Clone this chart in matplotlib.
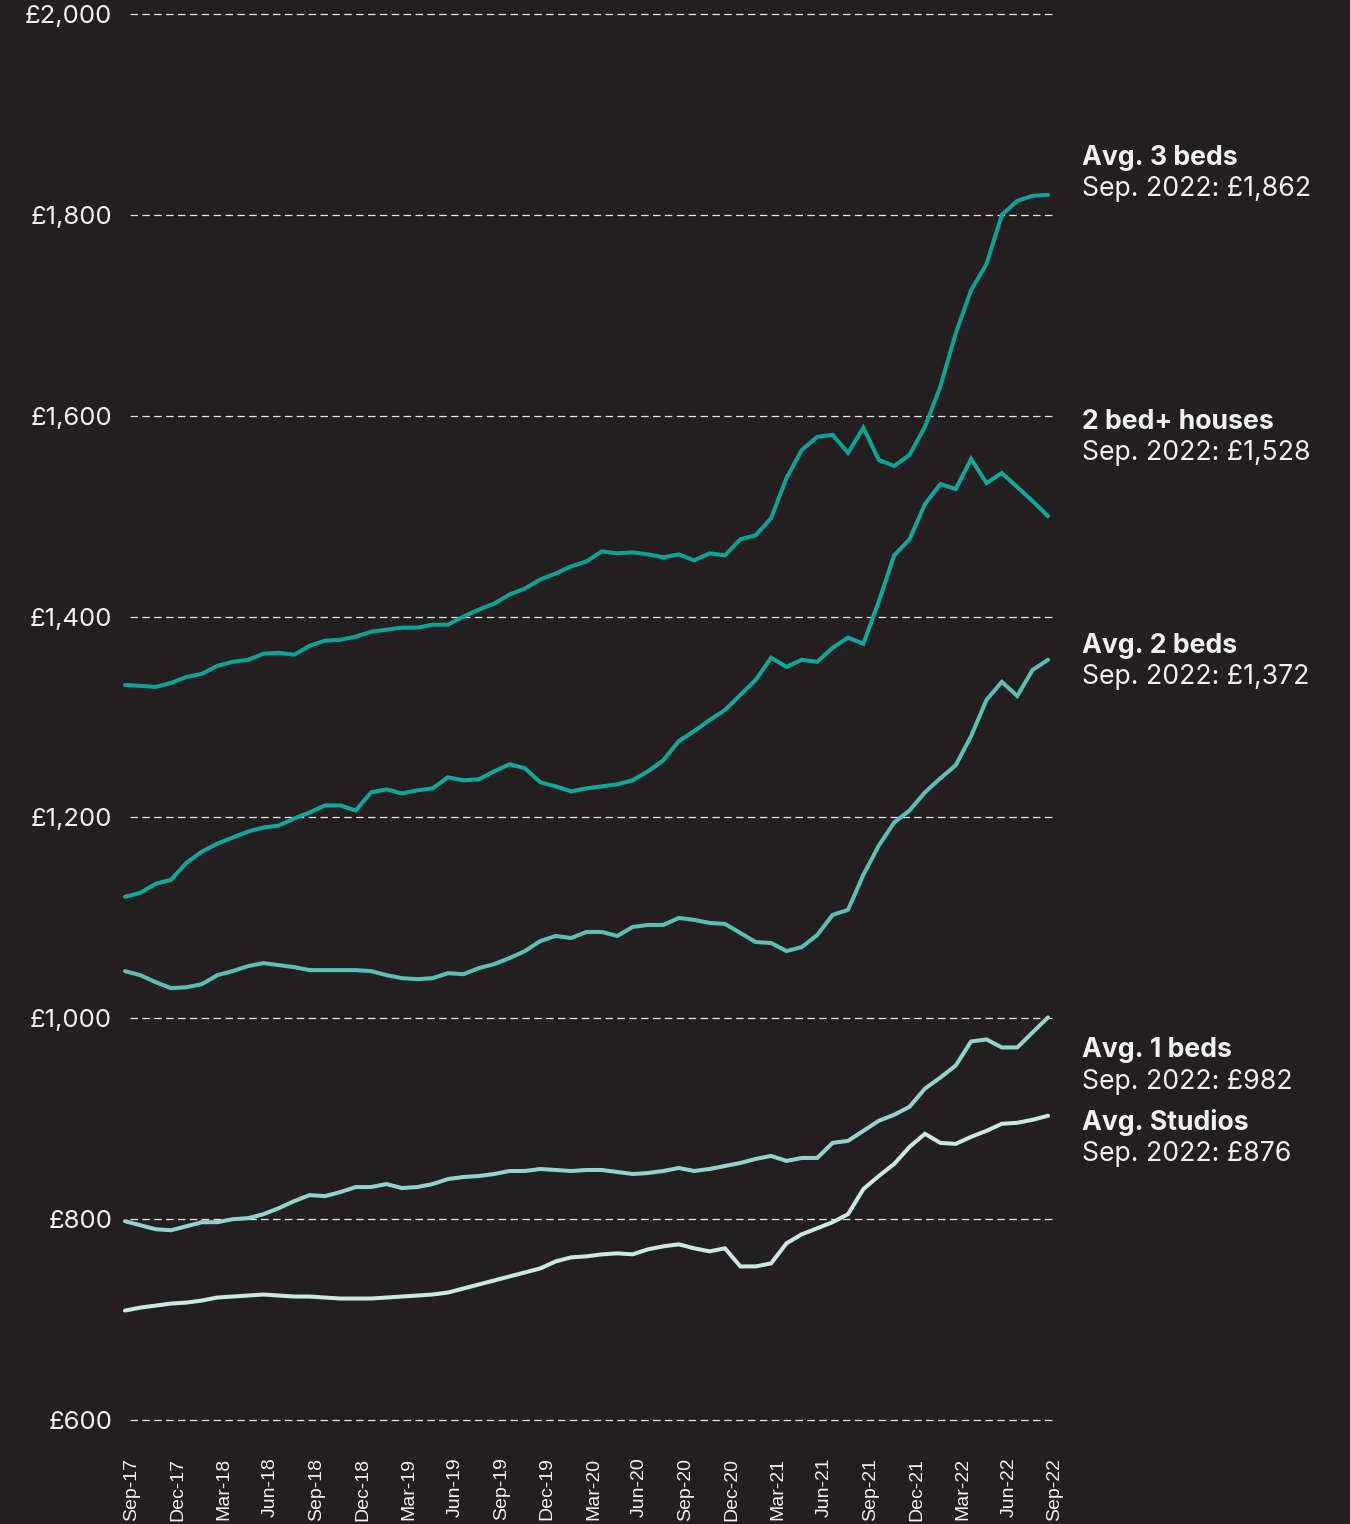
"""Average monthly rents by property size, Sep 2017 - Sep 2022."""
import matplotlib
matplotlib.use("Agg")
import matplotlib.pyplot as plt
from matplotlib.transforms import ScaledTranslation
import numpy as np

BG = "#231f20"
TXT = "#f2f2f2"

# Monthly average rents (GBP), Sep-17 .. Sep-22
beds3 = [1332, 1331, 1330, 1334, 1340, 1343, 1351, 1355, 1357, 1363,
         1364, 1362, 1371, 1376, 1377, 1380, 1385, 1387, 1389, 1389,
         1392, 1392, 1400, 1407, 1413, 1422, 1428, 1437, 1443, 1450,
         1455, 1465, 1463, 1464, 1462, 1459, 1462, 1456, 1463, 1461,
         1477, 1481, 1498, 1538, 1566, 1579, 1581, 1563, 1588, 1556,
         1550, 1561, 1589, 1629, 1682, 1725, 1751, 1800, 1814, 1819, 1820]
houses = [1121, 1125, 1134, 1138, 1155, 1166, 1174, 1180, 1186, 1190,
          1192, 1199, 1205, 1212, 1212, 1207, 1225, 1228, 1224, 1227,
          1229, 1240, 1237, 1238, 1246, 1253, 1249, 1235, 1231, 1226,
          1229, 1231, 1233, 1237, 1246, 1257, 1276, 1286, 1297, 1307,
          1322, 1337, 1359, 1350, 1357, 1355, 1369, 1379, 1373, 1415,
          1461, 1477, 1512, 1532, 1527, 1557, 1533, 1543, 1529, 1515, 1500]
beds2 = [1047, 1043, 1036, 1030, 1031, 1034, 1043, 1047, 1052, 1055,
         1053, 1051, 1048, 1048, 1048, 1048, 1047, 1043, 1040, 1039,
         1040, 1045, 1044, 1050, 1054, 1060, 1067, 1077, 1082, 1080,
         1086, 1086, 1082, 1091, 1093, 1093, 1100, 1098, 1095, 1094,
         1085, 1076, 1075, 1067, 1071, 1083, 1103, 1108, 1143, 1172,
         1195, 1207, 1225, 1239, 1252, 1281, 1317, 1335, 1321, 1347, 1357]
beds1 = [798, 794, 790, 789, 793, 797, 797, 800, 801, 805,
         811, 818, 824, 823, 827, 832, 832, 835, 831, 832,
         835, 840, 842, 843, 845, 848, 848, 850, 849, 848,
         849, 849, 847, 845, 846, 848, 851, 848, 850, 853,
         856, 860, 863, 858, 861, 861, 876, 878, 888, 898,
         904, 912, 930, 941, 953, 977, 979, 971, 971, 986, 1001]
studios = [709, 712, 714, 716, 717, 719, 722, 723, 724, 725,
           724, 723, 723, 722, 721, 721, 721, 722, 723, 724,
           725, 727, 731, 735, 739, 743, 747, 751, 758, 762,
           763, 765, 766, 765, 770, 773, 775, 771, 768, 771,
           753, 753, 756, 776, 785, 791, 797, 805, 830, 843,
           855, 872, 885, 876, 875, 882, 888, 895, 896, 899, 903]

tick_labels = ["Sep-17", "Dec-17", "Mar-18", "Jun-18", "Sep-18", "Dec-18",
               "Mar-19", "Jun-19", "Sep-19", "Dec-19", "Mar-20", "Jun-20",
               "Sep-20", "Dec-20", "Mar-21", "Jun-21", "Sep-21", "Dec-21",
               "Mar-22", "Jun-22", "Sep-22"]
y_ticks = [600, 800, 1000, 1200, 1400, 1600, 1800, 2000]

series_names = ["Avg. 3 beds", "2 bed+ houses", "Avg. 2 beds", "Avg. 1 beds", "Avg. Studios"]
series_notes = ["Sep. 2022: £1,862", "Sep. 2022: £1,528", "Sep. 2022: £1,372",
                "Sep. 2022: £982", "Sep. 2022: £876"]
# where the right-hand labels sit (value units)
label_y = [1857, 1594, 1371, 968, 896]
colors = ["#0aa396", "#0ea99c", "#58c0b7", "#93d3ce", "#c8e9e6"]


def main():
    fig = plt.figure(figsize=(13.5, 15.24), dpi=100, facecolor=BG)
    ax = fig.add_axes([0.0903, 0.0682, 0.6917, 0.9226], facecolor=BG)

    x = np.arange(len(beds3))
    data = [beds3, houses, beds2, beds1, studios]

    # dashed reference lines
    for yv in y_ticks:
        ax.hlines(yv, 0.33, 60.5, color="#e8e8e8", lw=0.9,
                  linestyles=(0, (6, 3.5)), zorder=1, clip_on=False)

    for vals, col in zip(data, colors):
        ax.plot(x, vals, color=col, lw=2.9, solid_capstyle="round",
                solid_joinstyle="miter", zorder=3, clip_on=False)

    # right-hand series labels
    for name, note, ly in zip(series_names, series_notes, label_y):
        ax.text(62.2, ly, name, color=TXT, fontsize=19.2, fontweight="bold",
                family="Inter", va="center", ha="left", clip_on=False)
        ax.annotate(note, xy=(62.2, ly), xytext=(0, -22.5), textcoords="offset points",
                    color=TXT, fontsize=19.2, family="Inter",
                    va="center", ha="left", annotation_clip=False)

    ax.set_xlim(-0.2, 60.5)
    ax.set_ylim(600, 2000)
    ax.set_xticks(np.arange(0, len(beds3), 3))
    ax.set_xticklabels(tick_labels, rotation=90, ha="center", va="top",
                       fontsize=14, family="Liberation Sans", color=TXT)
    ax.set_yticks(y_ticks)
    ax.set_yticklabels([f"£{v:,}" for v in y_ticks], fontsize=18.5,
                       family="Inter", color=TXT)
    ax.tick_params(axis="x", length=0, pad=27)
    ax.tick_params(axis="y", length=0, pad=7)
    for lab in ax.get_xticklabels():
        lab.set_transform(lab.get_transform() + ScaledTranslation(0.07, 0, fig.dpi_scale_trans))
    for s in ax.spines.values():
        s.set_visible(False)

    fig.savefig("out.png", dpi=100, facecolor=BG)
    plt.close(fig)


if __name__ == "__main__":
    main()
